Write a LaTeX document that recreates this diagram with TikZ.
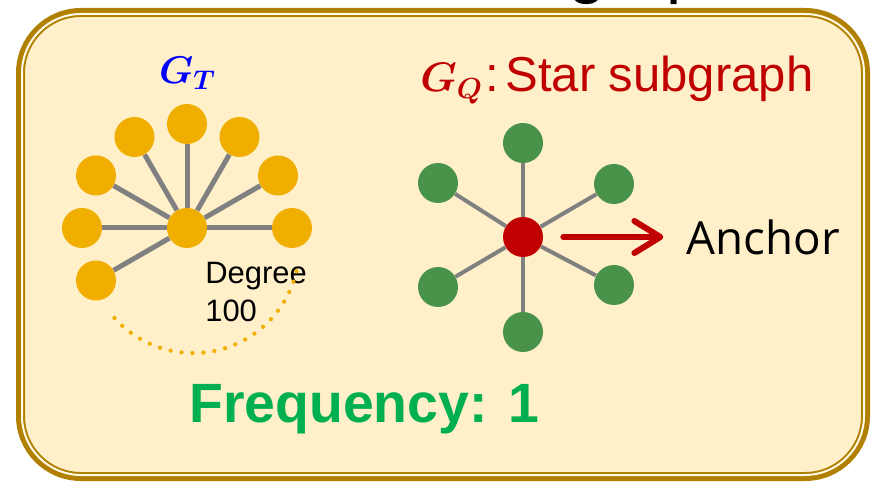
\documentclass[tikz,border=0pt]{standalone}
\usepackage{fix-cm}
\usepackage{amsmath}
\usepackage{bm}
\usepackage{fontspec}
\setmainfont{Liberation Sans}
\newfontfamily\anchorfont{Open Sans}
\usetikzlibrary{arrows.meta, positioning}
\definecolor{framegold}{RGB}{178,128,0}
\definecolor{framefill}{RGB}{255,240,201}
\definecolor{framelight}{RGB}{255,249,230}
\definecolor{tgold}{RGB}{240,174,0}
\definecolor{qgreen}{RGB}{72,146,74}
\definecolor{qred}{RGB}{192,0,0}
\definecolor{edgegray}{RGB}{128,128,128}
\definecolor{freqgreen}{RGB}{0,176,80}
\definecolor{gtblue}{RGB}{0,0,255}
\tikzset{
  sgnode/.style={circle, inner sep=0pt, minimum size=0.8cm},
  sgtleaf/.style={sgnode, fill=tgold},
  sgqleaf/.style={sgnode, fill=qgreen},
  sgqhub/.style={sgnode, fill=qred},
  sgtedge/.style={draw=edgegray, line width=0.1cm},
  sgqedge/.style={draw=edgegray, line width=0.08cm},
  sglabel/.style={inner sep=0pt},
  sgarrow/.style={-{Straight Barb[length=0.52cm, width=0.64cm, round]}, qred,
                  line width=0.12cm, line cap=round},
  sgdots/.style={tgold, line width=0.085cm, line cap=round,
                 dash pattern=on 0pt off 0.22cm},
}

\begin{document}
\begin{tikzpicture}
  \useasboundingbox (0,0) rectangle (17.44,9.64);
  % title cut off by the page edge
  \begin{scope}
    \clip (0,0) rectangle (17.44,9.64);
    \node[sglabel, anchor=base west, font=\fontsize{38.7}{46}\selectfont] (title)
      at (11.36,9.83) {graph};
  \end{scope}
  % frame
  \draw[framegold, fill=framefill, line width=0.18cm, rounded corners=1.21cm]
    (0.41,0.11) rectangle (17.31,9.39);
  \draw[framelight, line width=0.04cm, rounded corners=1.18cm]
    (0.44,0.14) rectangle (17.28,9.36);
  % G_T
  \node[sglabel, anchor=base, text=gtblue, font=\fontsize{22}{26}\selectfont] (gtlabel)
    at (3.75,7.96) {$\bm{G_T}$};
  \node[sgtleaf] (gthub) at (3.74,5.08) {};
  \node[sgtleaf] (gt0) at (5.84,5.08) {};
  \node[sgtleaf] (gt30) at (5.56,6.13) {};
  \node[sgtleaf] (gt60) at (4.79,6.90) {};
  \node[sgtleaf] (gt90) at (3.74,7.16) {};
  \node[sgtleaf] (gt120) at (2.69,6.90) {};
  \node[sgtleaf] (gt150) at (1.92,6.13) {};
  \node[sgtleaf] (gt180) at (1.64,5.08) {};
  \node[sgtleaf] (gt210) at (1.92,4.03) {};
  \draw[sgtedge] (gthub) -- (gt0);
  \draw[sgtedge] (gthub) -- (gt30);
  \draw[sgtedge] (gthub) -- (gt60);
  \draw[sgtedge] (gthub) -- (gt90);
  \draw[sgtedge] (gthub) -- (gt120);
  \draw[sgtedge] (gthub) -- (gt150);
  \draw[sgtedge] (gthub) -- (gt180);
  \draw[sgtedge] (gthub) -- (gt210);
  \node[sglabel, anchor=north west, align=left, font=\fontsize{17.6}{21.8}\selectfont] (degree)
    at (4.10,4.41) {Degree\\100};
  \draw[sgdots] (2.29,3.28) arc[start angle=222, end angle=351, radius=2.12];
  % G_Q
  \node[sglabel, anchor=base west, text=qred, font=\fontsize{27.9}{34}\selectfont] (gqlabel)
    at (8.40,7.80) {{\fontsize{23.5}{28}\selectfont$\bm{G_Q}$}\hspace{0.06em}:\hspace{0.12em}Star subgraph};
  \node[sgqhub] (gqhub) at (10.46,4.90) {};
  \node[sgqleaf] (gqtop) at (10.46,6.78) {};
  \node[sgqleaf] (gqul) at (8.76,5.98) {};
  \node[sgqleaf] (gqur) at (12.28,5.96) {};
  \node[sgqleaf] (gqll) at (8.76,3.90) {};
  \node[sgqleaf] (gqlr) at (12.28,3.94) {};
  \node[sgqleaf] (gqbot) at (10.46,3.00) {};
  \draw[sgqedge] (gqhub) -- (gqtop);
  \draw[sgqedge] (gqhub) -- (gqul);
  \draw[sgqedge] (gqhub) -- (gqur);
  \draw[sgqedge] (gqhub) -- (gqll);
  \draw[sgqedge] (gqhub) -- (gqlr);
  \draw[sgqedge] (gqhub) -- (gqbot);
  \node[sglabel, right=2.86cm of gqhub, font=\anchorfont\fontsize{26}{31}\selectfont]
    (anchortext) {Anchor};
  \draw[sgarrow, shorten <=0.4cm, shorten >=0.46cm] (gqhub) -- (anchortext);
  % frequency
  \node[sglabel, anchor=base west, text=freqgreen, font=\bfseries\fontsize{31.5}{38}\selectfont]
    (freq) at (3.78,1.20) {Frequency: 1};
\end{tikzpicture}
\end{document}
